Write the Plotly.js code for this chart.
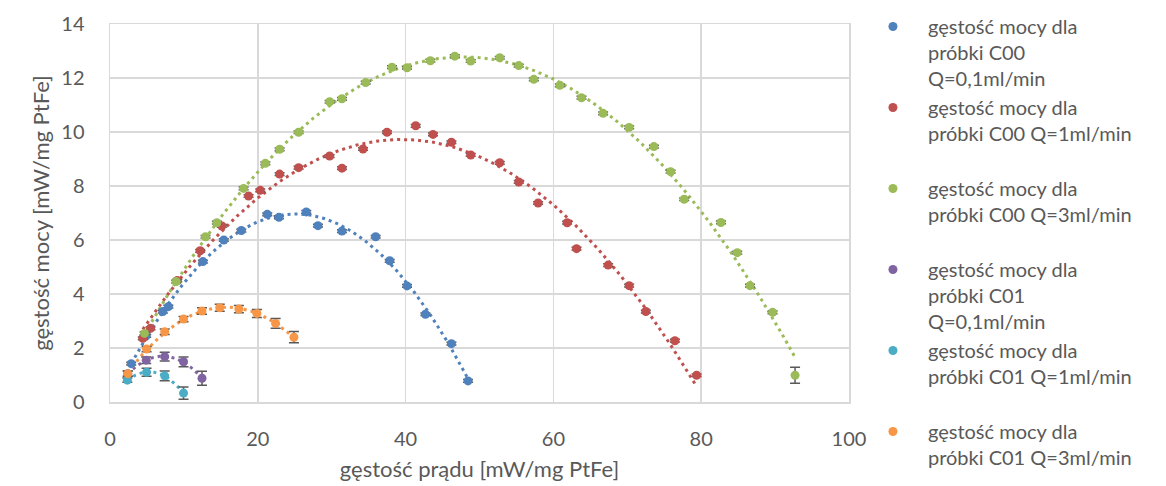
<!DOCTYPE html>
<html>
<head>
<meta charset="utf-8">
<script src="https://cdn.plot.ly/plotly-3.0.1.min.js"></script>
<style>html,body{margin:0;padding:0;background:#fff;}#chart{width:1166px;height:486px;}</style>
</head>
<body>
<div id="chart"></div>
<script>
// Series names
const names = [
  "gęstość mocy dla<br>próbki C00<br>Q=0,1ml/min",
  "gęstość mocy dla<br>próbki C00 Q=1ml/min<br>\u00a0",
  "gęstość mocy dla<br>próbki C00 Q=3ml/min<br>\u00a0",
  "gęstość mocy dla<br>próbki C01<br>Q=0,1ml/min",
  "gęstość mocy dla<br>próbki C01 Q=1ml/min<br>\u00a0",
  "gęstość mocy dla<br>próbki C01 Q=3ml/min"
];
const colors = ["#4F81BD", "#C0504D", "#9BBB59", "#8064A2", "#4BACC6", "#F79646"];

// C00 Q=0,1 ml/min
const c00_01_x = [2.87, 4.9, 7.15, 7.9, 12.57, 15.4, 17.77, 21.28, 22.86, 26.56, 28.14, 31.39, 35.95, 37.85, 40.19, 42.68, 46.2, 48.45];
const c00_01_y = [1.42, 2.45, 3.35, 3.53, 5.2, 6.0, 6.35, 6.95, 6.84, 7.04, 6.53, 6.33, 6.12, 5.23, 4.3, 3.25, 2.16, 0.78];
const c00_01_e = [0.05, 0.05, 0.05, 0.05, 0.05, 0.05, 0.05, 0.05, 0.05, 0.05, 0.05, 0.05, 0.05, 0.05, 0.05, 0.05, 0.05, 0.05];

// C00 Q=1 ml/min
const c00_1_x = [4.44, 5.48, 9.1, 12.2, 15.14, 18.75, 20.33, 22.95, 25.52, 29.72, 31.39, 34.24, 37.48, 41.37, 43.71, 46.2, 48.81, 52.74, 55.31, 57.93, 61.86, 63.13, 67.41, 70.25, 72.51, 76.44, 79.38];
const c00_1_y = [2.36, 2.73, 4.5, 5.6, 6.52, 7.63, 7.84, 8.44, 8.68, 9.11, 8.66, 9.37, 9.99, 10.23, 9.91, 9.62, 9.15, 8.86, 8.15, 7.37, 6.64, 5.68, 5.07, 4.31, 3.35, 2.27, 0.99];
const c00_1_e = [0.05, 0.05, 0.05, 0.05, 0.05, 0.05, 0.05, 0.05, 0.05, 0.05, 0.05, 0.05, 0.05, 0.05, 0.05, 0.05, 0.05, 0.05, 0.05, 0.05, 0.05, 0.05, 0.05, 0.05, 0.05, 0.05, 0.05];

// C00 Q=3 ml/min
const c00_3_x = [4.67, 8.96, 12.93, 14.46, 18.08, 21.02, 22.95, 25.52, 29.72, 31.39, 34.6, 38.16, 40.19, 43.35, 46.65, 48.81, 52.74, 55.31, 57.35, 60.87, 63.8, 66.73, 70.25, 73.6, 75.86, 77.7, 82.67, 84.88, 86.6, 89.66, 92.7];
const c00_3_y = [2.54, 4.46, 6.12, 6.64, 7.91, 8.84, 9.36, 9.99, 11.12, 11.23, 11.83, 12.4, 12.38, 12.64, 12.81, 12.63, 12.75, 12.46, 11.95, 11.73, 11.27, 10.69, 10.17, 9.46, 8.53, 7.51, 6.65, 5.53, 4.31, 3.32, 0.99];
const c00_3_e = [0.05, 0.05, 0.05, 0.05, 0.05, 0.05, 0.05, 0.05, 0.05, 0.05, 0.05, 0.05, 0.05, 0.05, 0.05, 0.05, 0.05, 0.05, 0.05, 0.05, 0.05, 0.05, 0.05, 0.05, 0.05, 0.05, 0.05, 0.05, 0.05, 0.05, 0.3];

// C01 Q=0,1 ml/min
const c01_01_x = [2.4, 4.9, 7.4, 9.95, 12.45];
const c01_01_y = [1.05, 1.55, 1.68, 1.49, 0.88];
const c01_01_e = [0.1, 0.12, 0.16, 0.18, 0.26];

// C01 Q=1 ml/min
const c01_1_x = [2.35, 4.95, 7.4, 9.95];
const c01_1_y = [0.81, 1.1, 0.97, 0.33];
const c01_1_e = [0.08, 0.15, 0.18, 0.23];

// C01 Q=3 ml/min
const c01_3_x = [2.41, 4.95, 7.4, 9.95, 12.45, 14.85, 17.44, 19.88, 22.41, 24.89];
const c01_3_y = [1.05, 1.96, 2.6, 3.07, 3.37, 3.49, 3.44, 3.28, 2.91, 2.4];
const c01_3_e = [0.1, 0.1, 0.1, 0.1, 0.12, 0.13, 0.13, 0.15, 0.18, 0.21];

const xTicks = [0, 20, 40, 60, 80, 100];
const yTicks = [0, 2, 4, 6, 8, 10, 12, 14];

const series = [
  [c00_01_x, c00_01_y, c00_01_e],
  [c00_1_x, c00_1_y, c00_1_e],
  [c00_3_x, c00_3_y, c00_3_e],
  [c01_01_x, c01_01_y, c01_01_e],
  [c01_1_x, c01_1_y, c01_1_e],
  [c01_3_x, c01_3_y, c01_3_e]
];

// least-squares quadratic trendline (like the spreadsheet's polynomial trendline)
function polyfit2(xs, ys) {
  let s = [0,0,0,0,0], t = [0,0,0];
  for (let i = 0; i < xs.length; i++) {
    let p = 1;
    for (let k = 0; k < 5; k++) { s[k] += p; p *= xs[i]; }
    p = 1;
    for (let k = 0; k < 3; k++) { t[k] += p * ys[i]; p *= xs[i]; }
  }
  const A = [[s[0], s[1], s[2], t[0]], [s[1], s[2], s[3], t[1]], [s[2], s[3], s[4], t[2]]];
  for (let i = 0; i < 3; i++) {
    let m = i;
    for (let r = i + 1; r < 3; r++) if (Math.abs(A[r][i]) > Math.abs(A[m][i])) m = r;
    [A[i], A[m]] = [A[m], A[i]];
    for (let r = 0; r < 3; r++) {
      if (r === i) continue;
      const f = A[r][i] / A[i][i];
      for (let c = i; c < 4; c++) A[r][c] -= f * A[i][c];
    }
  }
  return [A[0][3] / A[0][0], A[1][3] / A[1][1], A[2][3] / A[2][2]];
}

const traces = [];
series.forEach((s, i) => {
  const [xs, ys] = s;
  const c = polyfit2(xs, ys);
  const x0 = Math.min(...xs), x1 = Math.max(...xs);
  const tx = [], ty = [];
  const n = 200;
  for (let k = 0; k <= n; k++) {
    const x = x0 + (x1 - x0) * k / n;
    tx.push(x); ty.push(c[0] + c[1] * x + c[2] * x * x);
  }
  traces.push({
    x: tx, y: ty, mode: 'lines', type: 'scatter', showlegend: false, hoverinfo: 'skip',
    line: {color: colors[i], width: 3, dash: '3px,4px'}
  });
});
series.forEach((s, i) => {
  const [xs, ys, es] = s;
  traces.push({
    x: xs, y: ys, mode: 'markers', type: 'scatter', name: names[i],
    marker: {color: colors[i], size: 9},
    error_y: {type: 'data', array: es, visible: true, color: '#595959', thickness: 1.5, width: 5}
  });
});

const font = "Lato, 'Open Sans', sans-serif";
const layout = {
  width: 1166, height: 486,
  margin: {l: 110, r: 317, t: 24, b: 84, autoexpand: false},
  paper_bgcolor: '#ffffff', plot_bgcolor: '#ffffff',
  font: {family: font, color: '#595959', size: 20},
  showlegend: true,
  legend: {
    xref: 'container', yref: 'container',
    x: 0.7358, xanchor: 'left', y: 0.9856, yanchor: 'top',
    maxheight: 600,
    font: {family: font, size: 20, color: '#595959'},
    itemwidth: 60, valign: 'top', bgcolor: 'rgba(0,0,0,0)', tracegroupgap: 0
  },
  xaxis: {
    range: [0, 100], tickvals: xTicks, ticktext: xTicks.map(String),
    showgrid: true, gridcolor: '#D9D9D9', gridwidth: 1.5,
    showline: true, linecolor: '#D9D9D9', linewidth: 1.5, mirror: true,
    zeroline: false, ticks: '', ticklabelstandoff: 18,
    tickfont: {family: font, size: 20, color: '#595959'},
    title: {text: 'gęstość prądu [mW/mg PtFe]', font: {family: font, size: 22, color: '#595959'}, standoff: 13}
  },
  yaxis: {
    range: [0, 14], tickvals: yTicks, ticktext: yTicks.map(String),
    showgrid: true, gridcolor: '#D9D9D9', gridwidth: 1.5,
    showline: true, linecolor: '#D9D9D9', linewidth: 1.5, mirror: true,
    zeroline: false, ticks: '', ticklabelstandoff: 20,
    tickfont: {family: font, size: 20, color: '#595959'},
    title: {text: 'gęstość mocy [mW/mg PtFe]', font: {family: font, size: 22, color: '#595959'}, standoff: 5}
  }
};

Plotly.newPlot('chart', traces, layout, {displayModeBar: false, staticPlot: true});
</script>
</body>
</html>
